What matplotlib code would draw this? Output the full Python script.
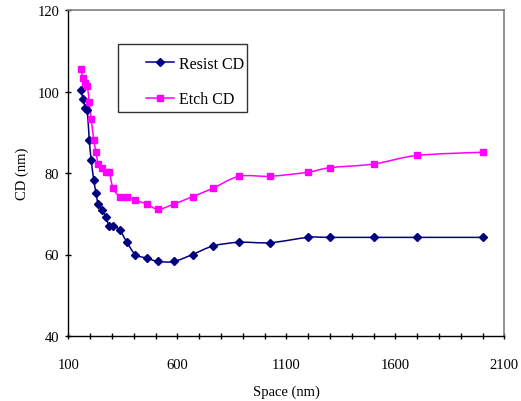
import matplotlib
matplotlib.use("Agg")
import matplotlib.pyplot as plt
import numpy as np
from matplotlib.path import Path
from matplotlib.patches import PathPatch, Rectangle
from matplotlib.lines import Line2D
from matplotlib.ticker import MultipleLocator

plt.rcParams["font.family"] = ["Liberation Serif", "DejaVu Serif"]

# Space (nm) and measured CDs (nm)
space = [157, 168, 178, 187, 196, 205, 217, 227, 237, 255, 271, 288, 305, 337,
         369, 408, 460, 512, 585, 670, 765, 884, 1027, 1200, 1300, 1500, 1700, 2000]
resist_cd = [100.3, 98.2, 96.0, 95.4, 88.2, 83.2, 78.2, 75.1, 72.4, 71.0, 69.2,
             67.1, 67.1, 65.9, 63.0, 60.0, 59.1, 58.3, 58.3, 60.0, 62.1, 63.0,
             62.9, 64.2, 64.2, 64.2, 64.2, 64.2]
etch_cd = [105.4, 103.3, 102.2, 101.4, 97.4, 93.2, 88.2, 85.1, 82.3, 81.3, 80.2,
           80.2, 76.3, 74.2, 74.2, 73.3, 72.4, 71.1, 72.4, 74.2, 76.3, 79.2,
           79.2, 80.2, 81.3, 82.2, 84.3, 85.1]
x_ticks = [100, 600, 1100, 1600, 2100]


def smooth_path(x, y):
    # Catmull-Rom style cubic Bezier through the points (spreadsheet "smoothed line")
    pts = np.column_stack([x, y]).astype(float)
    verts = [pts[0]]
    codes = [Path.MOVETO]
    n = len(pts)
    for i in range(n - 1):
        p0 = pts[max(i - 1, 0)]
        p1 = pts[i]
        p2 = pts[i + 1]
        p3 = pts[min(i + 2, n - 1)]
        c1 = p1 + (p2 - p0) / 6.0
        c2 = p2 - (p3 - p1) / 6.0
        verts += [c1, c2, p2]
        codes += [Path.CURVE4] * 3
    return Path(verts, codes)


W, H = 521, 402
fig = plt.figure(figsize=(W / 100, H / 100), dpi=100)
ax = fig.add_axes([68.3 / W, 1 - 337 / H, 436 / W, 326 / H])

navy = "#000080"
pink = "#ff00ff"

for y, col, mk, ms in [(resist_cd, navy, "D", 4.5), (etch_cd, pink, "s", 5)]:
    ax.add_patch(PathPatch(smooth_path(space, y), fill=False, edgecolor=col, lw=1.1))
    ax.plot(space, y, linestyle="none", marker=mk, color=col, markersize=ms)

ax.set_xlim(100, 2100)
ax.set_ylim(40, 120)
ax.set_xticks(x_ticks)
ax.xaxis.set_minor_locator(MultipleLocator(100))
ax.yaxis.set_major_locator(MultipleLocator(20))
ax.tick_params(which="both", direction="inout", length=5, width=1, labelsize=10.5)
ax.tick_params(axis="x", which="major", pad=13)
ax.tick_params(axis="y", which="major", pad=4)

for side in ["top", "right"]:
    ax.spines[side].set_color("#808080")
    ax.spines[side].set_linewidth(1.2)
for side in ["left", "bottom"]:
    ax.spines[side].set_linewidth(1.0)

ax.set_xlabel("Space (nm)", fontsize=10.5, labelpad=10)
ax.set_ylabel("CD (nm)", fontsize=10.5, labelpad=6)

# legend box with the wide left margin
fig.patches.append(Rectangle((118 / W, 1 - 113 / H), 129 / W, 68 / H,
                             transform=fig.transFigure, facecolor="white",
                             edgecolor="#333333", lw=1.0, zorder=5))
handles = [
    Line2D([], [], color=navy, marker="D", markersize=4.5, lw=1.1),
    Line2D([], [], color=pink, marker="s", markersize=5, lw=1.1),
]
leg = fig.legend(handles, ["Resist CD", "Etch CD"], loc="upper left",
                 bbox_to_anchor=(146 / W, 1 - 57 / H), fontsize=11.5,
                 frameon=False, borderpad=0, borderaxespad=0,
                 labelspacing=1.2, handlelength=1.75, handletextpad=0.3)
leg.set_zorder(6)

fig.savefig("out.png", dpi=100)
